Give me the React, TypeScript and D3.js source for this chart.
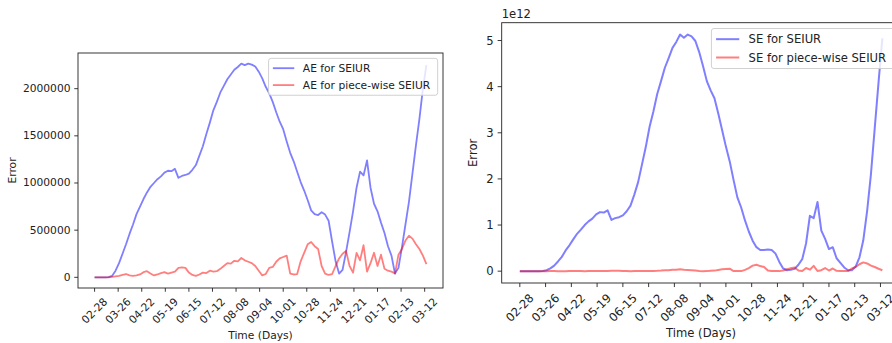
import React from 'react';
import * as d3 from 'd3';

// ---- data (x = days since 02-28) ----
const days = [
  0, 4, 8, 12, 16, 20, 24, 28, 32, 36,
  40, 44, 48, 52, 56, 60, 64, 68, 72, 76,
  80, 84, 88, 92, 96, 100, 104, 108, 112, 116,
  120, 124, 128, 132, 136, 140, 144, 148, 152, 156,
  160, 164, 168, 172, 176, 180, 184, 188, 192, 196,
  200, 204, 208, 212, 216, 220, 224, 228, 232, 236,
  240, 244, 248, 252, 256, 260, 264, 268, 272, 276,
  280, 284, 288, 292, 296, 300, 304, 308, 312, 316,
  320, 324, 328, 332, 336, 340, 344, 348, 352, 356,
  360, 364, 368, 372, 376, 380,
];

// Absolute error, in thousands
const aeSEIUR = [
  0, 0, 0, 0, 2, 15, 70, 150, 250, 350,
  460, 560, 670, 750, 830, 900, 960, 1000, 1040, 1070,
  1110, 1130, 1125, 1150, 1055, 1075, 1085, 1100, 1140, 1190,
  1290, 1390, 1520, 1640, 1770, 1860, 1960, 2030, 2100, 2150,
  2200, 2230, 2265, 2250, 2265, 2255, 2235, 2180, 2110, 2020,
  1950, 1860, 1750, 1650, 1570, 1440, 1320, 1230, 1120, 1010,
  920, 820, 710, 670, 660, 690, 665, 600, 380, 170,
  40, 80, 270, 480, 700, 950, 1120, 1080, 1240, 950,
  780, 700, 580, 470, 330, 230, 40, 100, 320, 560,
  800, 1100, 1400, 1680, 2000, 2250,
];
const aePiecewise = [
  0, 0, 0, 0, 0, 5, 10, 15, 25, 35,
  20, 15, 20, 30, 55, 65, 40, 20, 30, 45,
  55, 40, 50, 60, 100, 105, 100, 50, 25, 15,
  30, 50, 45, 70, 60, 65, 90, 120, 150, 145,
  175, 170, 205, 180, 165, 150, 120, 70, 20, 35,
  100, 110, 165, 200, 215, 230, 40, 30, 35, 170,
  260, 350, 375, 330, 300, 120, 40, 25, 35, 120,
  200, 250, 280, 120, 50, 260, 180, 340, 60, 150,
  260, 120, 240, 90, 70, 60, 40, 240, 300, 390,
  440, 410, 350, 300, 230, 140,
];
// Squared error, in units of 1e12
const seSEIUR = [
  0, 0, 0, 0, 0, 0, 0.005, 0.02, 0.06, 0.12,
  0.21, 0.31, 0.45, 0.56, 0.69, 0.81, 0.9, 1.0, 1.08, 1.14,
  1.23, 1.28, 1.27, 1.32, 1.11, 1.15, 1.17, 1.21, 1.3, 1.42,
  1.66, 1.93, 2.31, 2.69, 3.13, 3.46, 3.84, 4.12, 4.41, 4.62,
  4.84, 4.97, 5.13, 5.06, 5.13, 5.09, 4.99, 4.75, 4.45, 4.12,
  3.92, 3.75, 3.42, 3.06, 2.7, 2.38, 1.98, 1.6, 1.38, 1.1,
  0.86, 0.66, 0.52, 0.46, 0.46, 0.47, 0.46, 0.38, 0.2, 0.06,
  0.02, 0.03, 0.05, 0.14, 0.26, 0.6, 1.2, 1.15, 1.5, 0.88,
  0.7, 0.48, 0.52, 0.28, 0.18, 0.08, 0.02, 0.02, 0.1, 0.3,
  0.67, 1.3, 2.1, 3.1, 4.1, 5.05,
];
const sePiecewise = [
  0, 0, 0, 0, 0, 0, 0, 0, 0.001, 0.001,
  0, 0, 0, 0.001, 0.003, 0.004, 0.002, 0, 0.001, 0.002,
  0.003, 0.002, 0.003, 0.004, 0.01, 0.011, 0.01, 0.003, 0.001, 0,
  0.001, 0.003, 0.002, 0.005, 0.004, 0.004, 0.008, 0.014, 0.022, 0.021,
  0.03, 0.029, 0.042, 0.032, 0.027, 0.022, 0.014, 0.005, 0, 0.001,
  0.01, 0.012, 0.027, 0.04, 0.046, 0.053, 0.002, 0.001, 0.001, 0.029,
  0.068, 0.12, 0.14, 0.11, 0.09, 0.014, 0.002, 0.001, 0.001, 0.014,
  0.04, 0.062, 0.078, 0.014, 0.002, 0.068, 0.032, 0.115, 0.004, 0.022,
  0.068, 0.014, 0.058, 0.008, 0.005, 0.004, 0.002, 0.058, 0.09, 0.15,
  0.19, 0.168, 0.12, 0.09, 0.053, 0.02,
];

const tickDays = [0, 27, 54, 81, 108, 135, 162, 189, 216, 243, 270, 297, 324, 351, 378];
const tickLabels = ['02-28', '03-26', '04-22', '05-19', '06-15', '07-12', '08-08', '09-04', '10-01', '10-28', '11-24', '12-21', '01-17', '02-13', '03-12'];
const aeTicks = [0, 500, 1000, 1500, 2000];
const seTicks = [0, 1, 2, 3, 4, 5];
const aeLegend = ['AE for SEIUR', 'AE for piece-wise SEIUR'];
const seLegend = ['SE for SEIUR', 'SE for piece-wise SEIUR'];

const FONT = "'DejaVu Sans', sans-serif";
const TXT = '#222';

type PanelProps = {
  x0: number; x1: number; y0: number; y1: number; fs: number;
  blue: number[]; red: number[]; yTicks: number[]; fmt: (v: number) => string;
  legend: string[]; ylabelX: number; xlabelY: number; offsetText?: string; lw: number;
};

function Panel(p: PanelProps) {
  const { x0, x1, y0, y1, fs } = p;
  const xExt = d3.extent(days) as [number, number];
  const xPad = (xExt[1] - xExt[0]) * 0.05;
  const x = d3.scaleLinear().domain([xExt[0] - xPad, xExt[1] + xPad]).range([x0, x1]);
  const all = p.blue.concat(p.red);
  const yMin = d3.min(all)!;
  const yMax = d3.max(all)!;
  const yPad = (yMax - yMin) * 0.05;
  const y = d3.scaleLinear().domain([yMin - yPad, yMax + yPad]).range([y1, y0]);
  const line = d3.line<number>().x((_, i) => x(days[i])).y((v) => y(v));
  const tl = 0.35 * fs;
  const pad = 0.35 * fs;
  const bboxH = (2.905 + 1.164) * fs * Math.SQRT1_2;
  const xlabCY = y1 + tl + pad + bboxH / 2;
  const legW = 15.8 * fs;
  const legH = 3.45 * fs;
  const legX = x1 - 0.5 * fs - legW;
  const legY = y0 + 0.5 * fs;
  const rows = [legY + 0.92 * fs, legY + 2.5 * fs];
  const colors = ['blue', 'red'];
  return (
    <g fontFamily={FONT} fill={TXT}>
      <path d={line(p.blue)!} fill="none" stroke="blue" strokeOpacity={0.5} strokeWidth={p.lw} strokeLinejoin="round" />
      <path d={line(p.red)!} fill="none" stroke="red" strokeOpacity={0.5} strokeWidth={p.lw} strokeLinejoin="round" />
      <rect x={x0} y={y0} width={x1 - x0} height={y1 - y0} fill="none" stroke="#222" strokeWidth={0.9} />
      {p.yTicks.map((t) => (
        <g key={'y' + t}>
          <line x1={x0 - tl} x2={x0} y1={y(t)} y2={y(t)} stroke="#222" strokeWidth={0.9} />
          <text x={x0 - tl - pad} y={y(t)} fontSize={fs} textAnchor="end" dominantBaseline="central">{p.fmt(t)}</text>
        </g>
      ))}
      {tickDays.map((d, i) => (
        <g key={'x' + d}>
          <line x1={x(d)} x2={x(d)} y1={y1} y2={y1 + tl} stroke="#222" strokeWidth={0.9} />
          <text transform={`translate(${x(d)},${xlabCY}) rotate(-45)`} fontSize={fs} textAnchor="middle" dominantBaseline="central">{tickLabels[i]}</text>
        </g>
      ))}
      <text x={(x0 + x1) / 2} y={p.xlabelY} fontSize={fs} textAnchor="middle" dominantBaseline="central">Time (Days)</text>
      <text transform={`translate(${p.ylabelX},${(y0 + y1) / 2}) rotate(-90)`} fontSize={fs} textAnchor="middle" dominantBaseline="central">Error</text>
      {p.offsetText && (
        <text x={x0} y={y0 - 0.75 * fs} fontSize={fs} dominantBaseline="central">{p.offsetText}</text>
      )}
      <rect x={legX} y={legY} width={legW} height={legH} rx={2.5} fill="white" fillOpacity={0.8} stroke="#ccc" strokeWidth={0.9} />
      {p.legend.map((lab, i) => (
        <g key={lab}>
          <line x1={legX + 0.4 * fs} x2={legX + 2.4 * fs} y1={rows[i]} y2={rows[i]} stroke={colors[i]} strokeOpacity={0.5} strokeWidth={p.lw} />
          <text x={legX + 3.2 * fs} y={rows[i]} fontSize={fs} dominantBaseline="central">{lab}</text>
        </g>
      ))}
    </g>
  );
}

export default function App() {
  return (
    <svg width={892} height={343} style={{ position: 'absolute', left: 0, top: 0, background: 'white' }}>
      <rect width={892} height={343} fill="white" />
      <Panel x0={78} x1={443} y0={53} y1={288} fs={10.7} blue={aeSEIUR} red={aePiecewise}
        yTicks={aeTicks} fmt={(v) => String(v * 1000)} legend={aeLegend} ylabelX={12} xlabelY={335} lw={1.8} />
      <Panel x0={501.7} x1={900.5} y0={22.7} y1={283} fs={11.6} blue={seSEIUR} red={sePiecewise}
        yTicks={seTicks} fmt={(v) => String(v)} legend={seLegend} ylabelX={473} xlabelY={333} offsetText="1e12" lw={2} />
    </svg>
  );
}
